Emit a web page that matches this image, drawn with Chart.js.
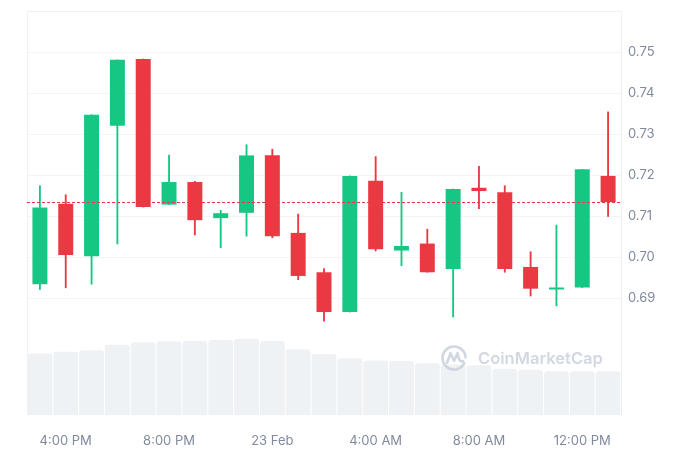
<!DOCTYPE html>
<html>
<head>
<meta charset="utf-8">
<script src="https://cdn.jsdelivr.net/npm/chart.js@4/dist/chart.umd.min.js"></script>
<style>
  html, body { margin: 0; padding: 0; background: #ffffff; }
  canvas { display: block; }
</style>
</head>
<body>
<canvas id="c" width="696" height="464"></canvas>
<script>
const categories = ['3:00 PM','4:00 PM','5:00 PM','6:00 PM','7:00 PM','8:00 PM','9:00 PM','10:00 PM','11:00 PM','23 Feb','1:00 AM','2:00 AM','3:00 AM','4:00 AM','5:00 AM','6:00 AM','7:00 AM','8:00 AM','9:00 AM','10:00 AM','11:00 AM','12:00 PM','1:00 PM'];
const shownLabels = ['4:00 PM','8:00 PM','23 Feb','4:00 AM','8:00 AM','12:00 PM'];
const opens  = [0.6934,0.7130,0.7002,0.7320,0.7483,0.7128,0.7183,0.7095,0.7108,0.7248,0.7059,0.6963,0.6866,0.7186,0.7016,0.7033,0.6971,0.7169,0.7158,0.6976,0.6921,0.6926,0.7198];
const highs  = [0.7174,0.7152,0.7347,0.7481,0.7483,0.7249,0.7185,0.7114,0.7274,0.7263,0.7105,0.6972,0.7198,0.7245,0.7158,0.7068,0.7166,0.7221,0.7174,0.7013,0.7078,0.7214,0.7354];
const lows   = [0.6921,0.6925,0.6934,0.7032,0.7122,0.7128,0.7054,0.7023,0.7051,0.7047,0.6945,0.6844,0.6866,0.7015,0.6979,0.6963,0.6854,0.7118,0.6963,0.6905,0.6881,0.6926,0.7099];
const closes = [0.7121,0.7005,0.7347,0.7481,0.7122,0.7183,0.7090,0.7107,0.7248,0.7051,0.6954,0.6866,0.7198,0.7019,0.7027,0.6963,0.7166,0.7161,0.6971,0.6923,0.6925,0.7214,0.7134];
const volumes = [30.5,31.3,32.0,34.8,36.0,36.5,36.6,37.1,37.8,36.6,32.5,30.2,28.1,27.0,26.7,25.6,25.0,24.6,22.9,22.4,21.6,21.6,21.6];
const priceTicks = [0.69,0.70,0.71,0.72,0.73,0.74,0.75];

const GREEN = '#16c784', RED = '#ea3943';
const candleColors = opens.map((o,i) => closes[i] >= o ? GREEN : RED);
const bodies = opens.map((o,i) => [o, closes[i]]);
const wicks = lows.map((l,i) => [l, highs[i]]);

const framePlugin = {
  id: 'frame',
  beforeDatasetsDraw(chart) {
    const {ctx, chartArea: a} = chart;
    ctx.save();
    ctx.strokeStyle = '#eff2f5';
    ctx.lineWidth = 1;
    ctx.beginPath();
    ctx.moveTo(a.left + 0.5, a.bottom);
    ctx.lineTo(a.left + 0.5, a.top + 0.5);
    ctx.lineTo(a.right, a.top + 0.5);
    ctx.stroke();
    ctx.restore();
  },
  afterDatasetsDraw(chart) {
    const {ctx, chartArea: a, scales} = chart;
    // watermark
    ctx.save();
    ctx.globalAlpha = 0.75;
    ctx.strokeStyle = '#c3cad8';
    ctx.fillStyle = '#c3cad8';
    const cx = 454, cy = 358, r = 11.5;
    ctx.lineWidth = 2.6;
    ctx.lineCap = 'round';
    ctx.lineJoin = 'round';
    ctx.beginPath();
    ctx.arc(cx, cy, r, 0.15 * Math.PI, 1.95 * Math.PI + 0.1);
    ctx.stroke();
    ctx.beginPath();
    ctx.moveTo(cx - 7, cy + 5);
    ctx.lineTo(cx - 3.5, cy - 5);
    ctx.lineTo(cx, cy + 3);
    ctx.lineTo(cx + 3.5, cy - 5);
    ctx.quadraticCurveTo(cx + 5, cy + 5, cx + 9, cy + 3);
    ctx.stroke();
    let size = 17;
    ctx.font = '600 ' + size + 'px Inter, "Noto Sans", sans-serif';
    const w = ctx.measureText('CoinMarketCap').width;
    size = size * 125 / w;
    ctx.font = '600 ' + size + 'px Inter, "Noto Sans", sans-serif';
    ctx.textBaseline = 'middle';
    ctx.textAlign = 'left';
    ctx.fillText('CoinMarketCap', 478, cy + 1);
    ctx.restore();
    // current price dashed line
    const y = Math.round(scales.y.getPixelForValue(closes[closes.length - 1])) + 0.5;
    ctx.save();
    ctx.strokeStyle = RED;
    ctx.lineWidth = 1;
    ctx.setLineDash([3, 2]);
    ctx.beginPath();
    ctx.moveTo(a.left, y);
    ctx.lineTo(a.right, y);
    ctx.stroke();
    ctx.restore();
  }
};

new Chart(document.getElementById('c'), {
  type: 'bar',
  data: {
    labels: categories,
    datasets: [
      {
        label: 'body', data: bodies, yAxisID: 'y', order: 0, grouped: false,
        backgroundColor: candleColors, borderWidth: 0,
        barPercentage: 0.58, categoryPercentage: 1, minBarLength: 2, borderSkipped: false
      },
      {
        label: 'wick', data: wicks, yAxisID: 'y', order: 1, grouped: false,
        backgroundColor: candleColors, borderWidth: 0,
        barThickness: 1.2, borderSkipped: false
      },
      {
        label: 'volume', data: volumes, yAxisID: 'yv', order: 2, grouped: false,
        backgroundColor: '#eff2f5', borderWidth: 0,
        barPercentage: 0.96, categoryPercentage: 1,
        borderRadius: {topLeft: 3, topRight: 3, bottomLeft: 0, bottomRight: 0}, borderSkipped: false
      }
    ]
  },
  options: {
    responsive: false,
    animation: false,
    layout: { padding: { left: 27, top: 11, right: 0, bottom: 0 } },
    plugins: { legend: { display: false }, tooltip: { enabled: false } },
    scales: {
      x: {
        offset: true,
        grid: { display: false, drawTicks: false },
        border: { display: false },
        ticks: {
          autoSkip: false, maxRotation: 0, padding: 18,
          color: '#808a9d',
          font: { family: 'Inter, "Noto Sans", sans-serif', size: 13 },
          callback(v, i) { const l = categories[i]; return shownLabels.includes(l) ? l : ''; }
        },
        afterFit(s) { s.height = 49; s.paddingLeft = 0; s.paddingRight = 0; }
      },
      y: {
        position: 'right',
        min: 0.6615, max: 0.76,
        afterBuildTicks(s) { s.ticks = priceTicks.map(v => ({ value: v })); },
        grid: { color: '#f3f4f6', drawTicks: false, lineWidth: 1 },
        border: { display: true, color: '#eff2f5' },
        ticks: {
          padding: 7, color: '#808a9d',
          font: { family: 'Inter, "Noto Sans", sans-serif', size: 13 },
          callback(v) { return v.toFixed(2); }
        },
        afterFit(s) { s.width = 75; s.paddingTop = 0; s.paddingBottom = 0; }
      },
      yv: {
        display: false, min: 0, max: 200
      }
    }
  },
  plugins: [framePlugin]
});
</script>
</body>
</html>
